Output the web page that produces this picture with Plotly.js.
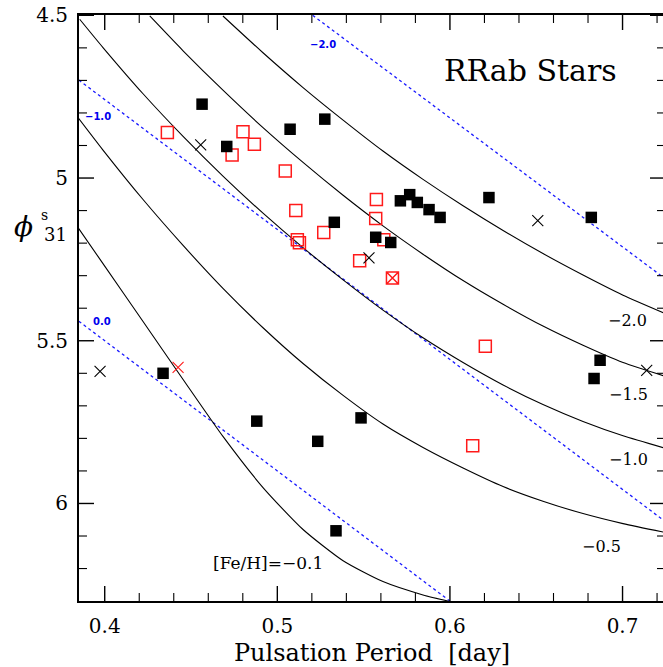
<!DOCTYPE html>
<html>
<head>
<meta charset="utf-8">
<script src="https://cdn.plot.ly/plotly-3.0.1.min.js"></script>
<style>html,body{margin:0;padding:0;background:#fff;overflow:hidden;}#plot{width:665px;height:667px;}</style>
</head>
<body>
<div id="plot"></div>
<script>
// ---- model curves (solid black), labelled by [Fe/H]
var curveM20X = [0.4685, 0.4917, 0.5149, 0.5381, 0.5612, 0.5844, 0.6076, 0.6308, 0.6539, 0.6771, 0.7003, 0.7246];
var curveM20Y = [4.502, 4.615, 4.722, 4.822, 4.917, 5.004, 5.085, 5.161, 5.232, 5.298, 5.360, 5.416];
var curveM15X = [0.4261, 0.4454, 0.4685, 0.4917, 0.5149, 0.5381, 0.5612, 0.5844, 0.6076, 0.6308, 0.6539, 0.6771, 0.7003, 0.7246];
var curveM15Y = [4.502, 4.609, 4.730, 4.845, 4.952, 5.053, 5.147, 5.234, 5.315, 5.388, 5.455, 5.514, 5.567, 5.609];
var curveM10X = [0.3855, 0.3990, 0.4222, 0.4454, 0.4685, 0.4917, 0.5149, 0.5381, 0.5612, 0.5844, 0.6076, 0.6308, 0.6539, 0.6771, 0.7003, 0.7246];
var curveM10Y = [4.512, 4.599, 4.741, 4.872, 4.994, 5.108, 5.214, 5.313, 5.406, 5.491, 5.567, 5.636, 5.696, 5.748, 5.792, 5.830];
var curveM05X = [0.3845, 0.3990, 0.4222, 0.4454, 0.4685, 0.4917, 0.5149, 0.5381, 0.5612, 0.5844, 0.6076, 0.6308, 0.6539, 0.6771, 0.7003, 0.7246];
var curveM05Y = [4.814, 4.914, 5.066, 5.207, 5.339, 5.460, 5.570, 5.668, 5.756, 5.828, 5.891, 5.948, 5.993, 6.031, 6.062, 6.089];
var curveM01X = [0.3845, 0.3990, 0.4222, 0.4454, 0.4685, 0.4917, 0.5149, 0.5381, 0.5612, 0.5844, 0.5999];
var curveM01Y = [5.152, 5.263, 5.441, 5.619, 5.794, 5.951, 6.080, 6.176, 6.240, 6.281, 6.301];

// ---- linear relations (blue dotted)
var linM20X = [0.5205, 0.7246], linM20Y = [4.500, 5.309];
var linM10X = [0.3850, 0.7246], linM10Y = [4.699, 6.055];
var lin00X  = [0.3850, 0.6000], lin00Y  = [5.440, 6.300];

// ---- stars
var filledX = [0.4564, 0.4707, 0.5074, 0.5275, 0.5330, 0.5570, 0.5657, 0.5713, 0.5767, 0.5811, 0.5879, 0.5943, 0.6226, 0.6819, 0.6870, 0.6835, 0.4338, 0.4881, 0.5234, 0.5485, 0.5340];
var filledY = [4.773, 4.903, 4.850, 4.819, 5.136, 5.182, 5.198, 5.070, 5.051, 5.075, 5.097, 5.121, 5.060, 5.121, 5.560, 5.616, 5.600, 5.747, 5.809, 5.737, 6.084];
var openX = [0.4363, 0.4801, 0.4867, 0.4738, 0.5046, 0.5107, 0.5116, 0.5128, 0.5269, 0.5477, 0.5574, 0.5570, 0.5617, 0.6205, 0.6132];
var openY = [4.860, 4.858, 4.896, 4.929, 4.978, 5.100, 5.190, 5.199, 5.167, 5.254, 5.066, 5.124, 5.190, 5.517, 5.823];
var openCrossX = [0.5667], openCrossY = [5.307];
var crossX = [0.4556, 0.5531, 0.6509, 0.7140, 0.3973];
var crossY = [4.898, 5.245, 5.131, 5.591, 5.594];
var redCrossX = [0.4425], redCrossY = [5.582];

var xTicks = [0.4, 0.5, 0.6, 0.7], xTickText = ['0.4', '0.5', '0.6', '0.7'];
var yTicks = [4.5, 5, 5.5, 6], yTickText = ['4.5', '5', '5.5', '6'];
var xMinorStep = 0.02, yMinorStep = 0.1;
var curveLabels = ["\u22122.0", "\u22121.5", "\u22121.0", "\u22120.5", "[Fe/H]=\u22120.1"];
var lineLabels = ["\u22122.0", "\u22121.0", "0.0"];

var XR = [0.3851, 0.7246], YR = [6.2997, 4.499];
var PLOT_W = 586, PLOT_H = 586;

var black = {color: '#000', width: 1.1};
var blue = {color: '#1a1aff', width: 1.3, dash: 'dot'};
function ln(x, y, st, sh) { return {x: x, y: y, mode: 'lines', line: Object.assign({shape: sh || 'spline', smoothing: 0.6}, st), hoverinfo: 'skip', showlegend: false}; }

// tick marks on all four sides (inside), derived from the tick arrays and the axis scale
var pxX = (XR[1] - XR[0]) / PLOT_W, pxY = (YR[0] - YR[1]) / PLOT_H;
function tickTrace(xv, yv, len, w) {
  var tx = [], ty = [];
  xv.forEach(function (v) {
    tx.push(v, v, null, v, v, null);
    ty.push(YR[0], YR[0] - len * pxY, null, YR[1], YR[1] + len * pxY, null);
  });
  yv.forEach(function (v) {
    tx.push(XR[0], XR[0] + len * pxX, null, XR[1], XR[1] - len * pxX, null);
    ty.push(v, v, null, v, v, null);
  });
  return {x: tx, y: ty, mode: 'lines', line: {color: '#000', width: w}, connectgaps: false, hoverinfo: 'skip', showlegend: false, cliponaxis: false};
}
var xMinor = [], yMinor = [];
for (var i = 0; 0.4 + i * xMinorStep <= XR[1] + 1e-9; i++) { var xv = +(0.4 + i * xMinorStep).toFixed(2); if (xTicks.indexOf(xv) < 0) xMinor.push(xv); }
for (var j = 0; 4.5 + j * yMinorStep <= YR[0] + 1e-9; j++) { var yv = +(4.5 + j * yMinorStep).toFixed(1); if (yTicks.indexOf(yv) < 0) yMinor.push(yv); }

var traces = [
  ln(linM20X, linM20Y, blue, 'linear'), ln(linM10X, linM10Y, blue, 'linear'), ln(lin00X, lin00Y, blue, 'linear'),
  ln(curveM20X, curveM20Y, black), ln(curveM15X, curveM15Y, black), ln(curveM10X, curveM10Y, black),
  ln(curveM05X, curveM05Y, black), ln(curveM01X, curveM01Y, black),
  {x: openX, y: openY, mode: 'markers', marker: {symbol: 'square-open', size: 12, color: '#ff1a1a', line: {width: 1.5, color: '#ff1a1a'}}, showlegend: false},
  {x: openCrossX, y: openCrossY, mode: 'markers', marker: {symbol: 'square-x-open', size: 12, color: '#ff1a1a', line: {width: 1.5, color: '#ff1a1a'}}, showlegend: false},
  {x: filledX, y: filledY, mode: 'markers', marker: {symbol: 'square', size: 11.5, color: '#000', line: {width: 0}}, showlegend: false},
  {x: crossX, y: crossY, mode: 'markers', marker: {symbol: 'x-thin-open', size: 11, color: '#000', line: {width: 1.1, color: '#000'}}, showlegend: false},
  {x: redCrossX, y: redCrossY, mode: 'markers', marker: {symbol: 'x-thin-open', size: 11, color: '#ff1a1a', line: {width: 1.1, color: '#ff1a1a'}}, showlegend: false},
  tickTrace(xMinor, yMinor, 8, 1.1),
  tickTrace(xTicks, yTicks, 15, 1.4)
];

var serif = 'DejaVu Serif, Liberation Serif, serif';
function axis(extra) {
  var a = {
    showgrid: false, zeroline: false, showline: true, linewidth: 2, linecolor: '#000', mirror: true,
    ticks: '', tickfont: {family: serif, size: 20, color: '#000'}
  };
  return Object.assign(a, extra);
}
var layout = {
  width: 665, height: 667,
  margin: {l: 79, r: 0, t: 15, b: 66},
  paper_bgcolor: '#fff', plot_bgcolor: '#fff',
  xaxis: axis({
    range: XR, tickmode: 'array', tickvals: xTicks, ticktext: xTickText, ticklabelstandoff: 6,
    title: {text: 'Pulsation Period \u00a0[day]', font: {family: serif, size: 24, color: '#000'}, standoff: 12}
  }),
  yaxis: axis({range: YR, tickmode: 'array', tickvals: yTicks, ticktext: yTickText, ticklabelstandoff: 5}),
  annotations: [
    {x: 0.6467, y: 4.671, text: 'RRab Stars', showarrow: false, font: {family: serif, size: 30, color: '#000'}},
    {x: 0.7027, y: 5.437, text: curveLabels[0], showarrow: false, font: {family: serif, size: 16, color: '#000'}},
    {x: 0.7033, y: 5.666, text: curveLabels[1], showarrow: false, font: {family: serif, size: 16, color: '#000'}},
    {x: 0.7033, y: 5.865, text: curveLabels[2], showarrow: false, font: {family: serif, size: 16, color: '#000'}},
    {x: 0.6877, y: 6.133, text: curveLabels[3], showarrow: false, font: {family: serif, size: 16, color: '#000'}},
    {x: 0.4948, y: 6.184, text: curveLabels[4], showarrow: false, font: {family: serif, size: 17, color: '#000'}},
    {x: 0.5265, y: 4.589, text: lineLabels[0], showarrow: false, font: {family: 'DejaVu Sans', size: 10, color: '#0000ee', weight: 'bold'}},
    {x: 0.3961, y: 4.811, text: lineLabels[1], showarrow: false, font: {family: 'DejaVu Sans', size: 10, color: '#0000ee', weight: 'bold'}},
    {x: 0.3987, y: 5.440, text: lineLabels[2], showarrow: false, font: {family: 'DejaVu Sans', size: 10, color: '#0000ee', weight: 'bold'}},
    {xref: 'paper', yref: 'paper', x: (12 - 79) / 586, y: (601 - 226) / 586, text: '<i>\u03d5</i>', showarrow: false, font: {family: serif, size: 28, color: '#000'}},
    {xref: 'paper', yref: 'paper', x: (39 - 79) / 586, y: (601 - 205) / 586, text: 's', showarrow: false, font: {family: serif, size: 14, color: '#000'}},
    {xref: 'paper', yref: 'paper', x: (42 - 79) / 586, y: (601 - 234) / 586, text: '31', showarrow: false, font: {family: serif, size: 18, color: '#000'}}
  ]
};
Plotly.newPlot('plot', traces, layout, {displayModeBar: false, staticPlot: true});
</script>
</body>
</html>
